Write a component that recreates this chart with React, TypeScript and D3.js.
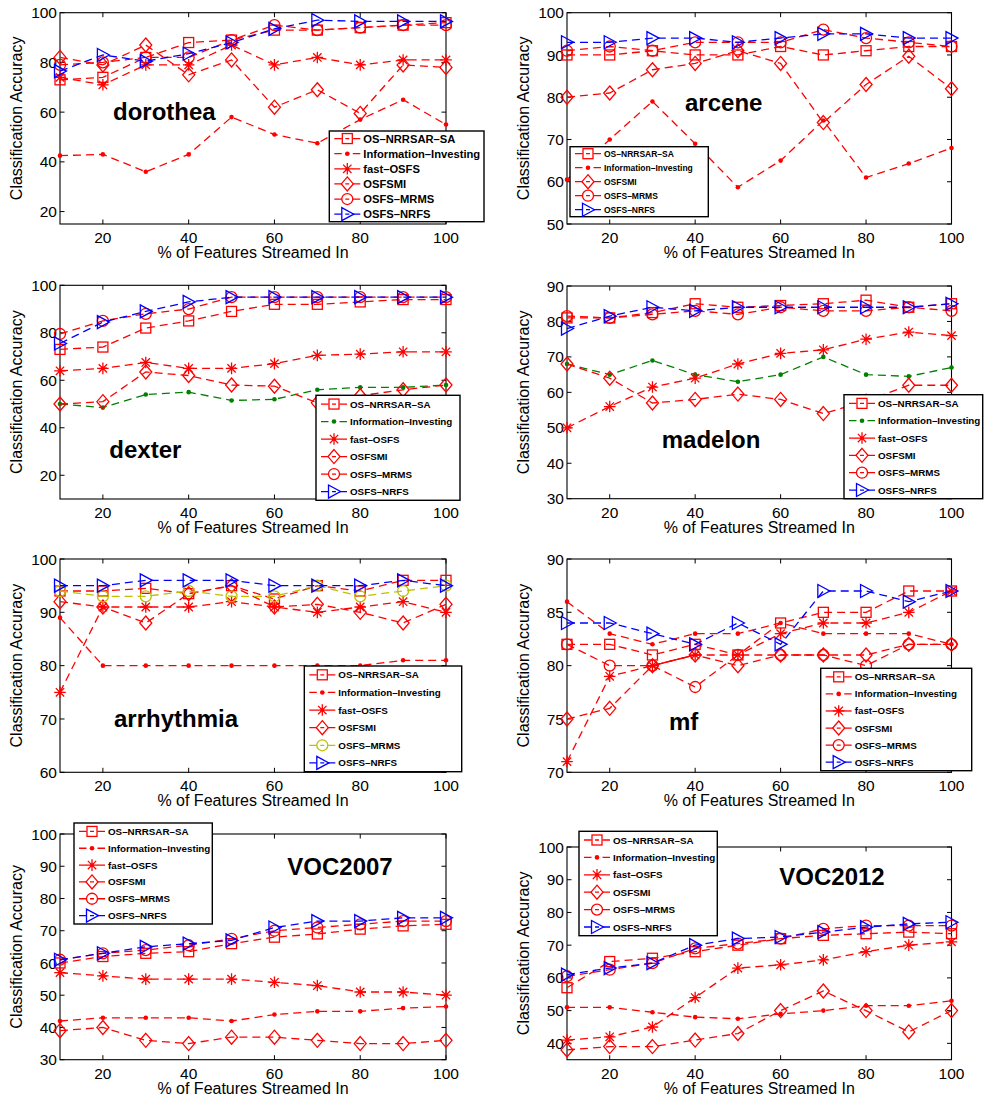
import React from "react";
import * as d3 from "d3";

const pct = [10, 20, 30, 40, 50, 60, 70, 80, 90, 100];
const xTicks = [20, 40, 60, 80, 100];

const methods = ["OS–NRRSAR–SA", "Information–Investing", "fast–OSFS", "OSFSMI", "OSFS–MRMS", "OSFS–NRFS"];
const markerTypes = ["square", "dot", "star", "diamond", "circle", "triangle"];

// dorothea
const dorotheaSA = [73, 74, 82, 88, 89, 93, 93, 94, 95, 96];
const dorotheaII = [42.5, 43, 36, 43, 58, 51, 47.5, 57, 65, 55];
const dorotheaFast = [74, 71, 79, 79, 87, 79, 82, 79, 81, 81];
const dorotheaMI = [82, 79, 87, 75, 81, 62, 69, 59.5, 79, 78];
const dorotheaMRMS = [79, 80, 82, 82, 89, 95, 93, 94, 95, 95];
const dorotheaNRFS = [76.5, 83, 80.5, 83.5, 88, 93.5, 97, 96.5, 96.5, 96.5];

// arcene
const arceneSA = [90, 90, 91, 90, 90, 92, 90, 91, 92, 92];
const arceneII = [60.5, 70, 79, 69, 58.7, 65, 74.5, 61, 64.3, 68];
const arceneMI = [80, 81, 86.5, 88, 91, 88, 74, 83, 89.7, 82];
const arceneMRMS = [91, 92, 91, 93, 93, 93, 96, 94, 93, 92];
const arceneNRFS = [93, 93, 94, 94, 93, 94, 95, 95, 94, 94];

// dexter
const dexterSA = [73, 74, 82, 85, 89, 92, 92, 93, 94, 94];
const dexterII = [50, 48.5, 54, 55, 51.5, 52, 56, 57, 57, 58];
const dexterFast = [64, 65, 67.5, 65, 65, 67, 70.5, 71, 72, 72];
const dexterMI = [50, 51, 63.5, 62, 58, 57.5, 50.5, 53.5, 56, 58];
const dexterMRMS = [79.5, 85, 88, 90, 95, 95, 95, 95, 95, 95];
const dexterNRFS = [75.5, 84.5, 89, 93, 95, 95, 95, 95, 95, 95];

// madelon
const madelonSA = [81, 81, 82.5, 85, 84, 84.5, 85, 86, 84, 85];
const madelonII = [68, 65, 69, 65, 63, 65, 70, 65, 64.5, 67];
const madelonFast = [50, 56, 61.5, 64, 68, 71, 72, 75, 77, 76];
const madelonMI = [68, 64, 57, 58, 59.5, 58, 54, 57.5, 62, 62];
const madelonMRMS = [81.5, 81, 82, 83, 82, 84, 83, 83, 84, 83];
const madelonNRFS = [78, 81.5, 84, 83, 84, 84, 84, 84, 84, 85];

// arrhythmia
const arrhythmiaSA = [94, 94, 94.5, 93.5, 95, 92.5, 95, 94, 96, 96];
const arrhythmiaII = [89, 80, 80, 80, 80, 80, 80, 80, 81, 81];
const arrhythmiaFast = [75, 91, 91, 91, 92, 91, 90, 91, 92, 90];
const arrhythmiaMI = [92, 91, 88, 93.5, 95, 91, 91.5, 90, 88, 91.5];
const arrhythmiaMRMS = [94, 93, 93, 94, 93, 93, 95, 93, 94, 95];
const arrhythmiaNRFS = [95, 95, 96, 96, 96, 95, 95, 95, 96, 95];

// mf
const mfSA = [82, 82, 81, 82, 81, 84, 85, 85, 87, 87];
const mfII = [86, 83, 82, 83, 83, 84, 83, 83, 83, 82];
const mfFast = [71, 79, 80, 81, 81, 83, 84, 84, 85, 87];
const mfMI = [75, 76, 80, 81, 80, 81, 81, 81, 82, 82];
const mfMRMS = [82, 80, 80, 78, 81, 81, 81, 80, 82, 82];
const mfNRFS = [84, 84, 83, 82, 84, 82, 87, 87, 86, 87];

// VOC2007
const voc07SA = [60, 62, 63, 63.5, 66, 68, 69, 70.5, 71.5, 72];
const voc07II = [42, 43, 43, 43, 42, 44, 45, 45, 46, 46.5];
const voc07Fast = [57, 56, 55, 55, 55, 54, 53, 51, 51, 50];
const voc07MI = [39, 40, 36, 35, 37, 37, 36, 35, 35, 36];
const voc07MRMS = [61, 63, 64, 65.5, 67.5, 70, 71, 72, 73, 73];
const voc07NRFS = [61, 63, 65, 66, 67, 71, 73, 73, 74, 74];

// VOC2012
const voc12SA = [57, 65, 66, 68, 70, 72, 73, 73.5, 74, 73.5];
const voc12II = [51, 51, 49.5, 48, 47.5, 49, 50, 51.5, 51.5, 53];
const voc12Fast = [41, 42, 45, 54, 63, 64, 65.5, 68, 70, 71];
const voc12MI = [38, 39, 39, 41, 43, 50, 56, 50, 43.5, 50];
const voc12MRMS = [60.5, 62.5, 64.5, 69, 70.5, 72, 75, 76, 76, 76];
const voc12NRFS = [61, 63, 64.5, 70, 72, 72.5, 74, 75.5, 76.5, 77];

const RED = "#ff0000";
const BLUE = "#0000ff";
const GREEN = "#008000";
const OLIVE = "#bfbf00";
const FONT = "'Liberation Sans', Arial, Helvetica, sans-serif";
const DASH = "8,5";

type Series = { m: number; values: number[]; color?: string; solidSeg?: [number, number] };
type PanelCfg = {
  name: string;
  left: number; right: number; top: number; bottom: number;
  yDomain: [number, number];
  yTicks: number[];
  series: Series[];
  legend: { x: number; y: number; w: number; h: number; font: number };
  label: { x: number; y: number };
};

const panels: PanelCfg[] = [
  {
    name: "dorothea", left: 60, right: 446, top: 12.7, bottom: 224,
    yDomain: [15, 100], yTicks: [20, 40, 60, 80, 100],
    series: [
      { m: 0, values: dorotheaSA }, { m: 1, values: dorotheaII }, { m: 2, values: dorotheaFast },
      { m: 3, values: dorotheaMI }, { m: 4, values: dorotheaMRMS }, { m: 5, values: dorotheaNRFS },
    ],
    legend: { x: 329.3, y: 131, w: 154.7, h: 90.7, font: 11.2 },
    label: { x: 113, y: 119.5 },
  },
  {
    name: "arcene", left: 567, right: 951.5, top: 12.7, bottom: 224,
    yDomain: [50, 100], yTicks: [50, 60, 70, 80, 90, 100],
    series: [
      { m: 0, values: arceneSA }, { m: 1, values: arceneII },
      { m: 3, values: arceneMI }, { m: 4, values: arceneMRMS }, { m: 5, values: arceneNRFS },
    ],
    legend: { x: 570, y: 146.7, w: 138.3, h: 70, font: 8.5 },
    label: { x: 685, y: 110.7 },
  },
  {
    name: "dexter", left: 60, right: 446, top: 285.3, bottom: 499,
    yDomain: [10, 100], yTicks: [20, 40, 60, 80, 100],
    series: [
      { m: 0, values: dexterSA }, { m: 1, values: dexterII, color: GREEN }, { m: 2, values: dexterFast },
      { m: 3, values: dexterMI }, { m: 4, values: dexterMRMS }, { m: 5, values: dexterNRFS },
    ],
    legend: { x: 316, y: 395.3, w: 144, h: 105, font: 9.8 },
    label: { x: 109.3, y: 458 },
  },
  {
    name: "madelon", left: 567, right: 951.5, top: 286, bottom: 498.7,
    yDomain: [30, 90], yTicks: [30, 40, 50, 60, 70, 80, 90],
    series: [
      { m: 0, values: madelonSA }, { m: 1, values: madelonII, color: GREEN }, { m: 2, values: madelonFast },
      { m: 3, values: madelonMI }, { m: 4, values: madelonMRMS }, { m: 5, values: madelonNRFS },
    ],
    legend: { x: 844, y: 394.7, w: 138.7, h: 104, font: 9.8 },
    label: { x: 661.7, y: 448 },
  },
  {
    name: "arrhythmia", left: 60, right: 446, top: 559, bottom: 772.3,
    yDomain: [60, 100], yTicks: [60, 70, 80, 90, 100],
    series: [
      { m: 0, values: arrhythmiaSA }, { m: 1, values: arrhythmiaII }, { m: 2, values: arrhythmiaFast },
      { m: 3, values: arrhythmiaMI }, { m: 4, values: arrhythmiaMRMS, color: OLIVE }, { m: 5, values: arrhythmiaNRFS },
    ],
    legend: { x: 304.3, y: 666, w: 157.4, h: 105.7, font: 9.8 },
    label: { x: 114, y: 726.7 },
  },
  {
    name: "mf", left: 567, right: 951.5, top: 559, bottom: 772.3,
    yDomain: [70, 90], yTicks: [70, 75, 80, 85, 90],
    series: [
      { m: 0, values: mfSA }, { m: 1, values: mfII }, { m: 2, values: mfFast, solidSeg: [2, 3] },
      { m: 3, values: mfMI }, { m: 4, values: mfMRMS }, { m: 5, values: mfNRFS },
    ],
    legend: { x: 820.7, y: 668.3, w: 151, h: 102.4, font: 9.8 },
    label: { x: 669, y: 730 },
  },
  {
    name: "VOC2007", left: 60, right: 446, top: 834, bottom: 1059.7,
    yDomain: [30, 100], yTicks: [30, 40, 50, 60, 70, 80, 90, 100],
    series: [
      { m: 0, values: voc07SA }, { m: 1, values: voc07II }, { m: 2, values: voc07Fast },
      { m: 3, values: voc07MI }, { m: 4, values: voc07MRMS }, { m: 5, values: voc07NRFS },
    ],
    legend: { x: 74, y: 823, w: 138.3, h: 101, font: 9.8 },
    label: { x: 287.3, y: 875.3 },
  },
  {
    name: "VOC2012", left: 567, right: 951.5, top: 847, bottom: 1059.7,
    yDomain: [35, 100], yTicks: [40, 50, 60, 70, 80, 90, 100],
    series: [
      { m: 0, values: voc12SA }, { m: 1, values: voc12II }, { m: 2, values: voc12Fast },
      { m: 3, values: voc12MI }, { m: 4, values: voc12MRMS }, { m: 5, values: voc12NRFS },
    ],
    legend: { x: 579, y: 831.3, w: 138.3, h: 104.4, font: 9.8 },
    label: { x: 779.3, y: 885.3 },
  },
];

function Marker({ type, x, y, color }: { type: string; x: number; y: number; color: string }) {
  const sw = 1.3;
  if (type === "square")
    return <rect x={x - 5} y={y - 5} width={10} height={10} fill="none" stroke={color} strokeWidth={sw} />;
  if (type === "dot") return <circle cx={x} cy={y} r={2.3} fill={color} />;
  if (type === "star") {
    const s = 5.8, d = s * 0.72;
    return (
      <path
        d={`M${x - s},${y}H${x + s}M${x},${y - s}V${y + s}M${x - d},${y - d}L${x + d},${y + d}M${x - d},${y + d}L${x + d},${y - d}`}
        fill="none" stroke={color} strokeWidth={sw}
      />
    );
  }
  if (type === "diamond")
    return <path d={`M${x},${y - 7}L${x + 6},${y}L${x},${y + 7}L${x - 6},${y}Z`} fill="none" stroke={color} strokeWidth={sw} />;
  if (type === "circle") return <circle cx={x} cy={y} r={5.5} fill="none" stroke={color} strokeWidth={sw} />;
  return <path d={`M${x - 5.5},${y - 6.5}L${x + 6.5},${y}L${x - 5.5},${y + 6.5}Z`} fill="none" stroke={color} strokeWidth={sw} />;
}

function Panel({ p }: { p: PanelCfg }) {
  const x = d3.scaleLinear().domain([10, 100]).range([p.left, p.right]);
  const y = d3.scaleLinear().domain(p.yDomain).range([p.bottom, p.top]);
  const line = d3.line<number>().x((_, i) => x(pct[i])).y((d) => y(d));
  const colorOf = (s: Series) => s.color || (s.m === 5 ? BLUE : RED);
  const tk = 4.5;
  const lg = p.legend;
  const n = p.series.length;
  const rowH = lg.h / n;

  return (
    <g>
      {/* axes box and ticks */}
      <rect x={p.left} y={p.top} width={p.right - p.left} height={p.bottom - p.top} fill="none" stroke="#000" strokeWidth={1.1} />
      {xTicks.map((t) => (
        <g key={"x" + t}>
          <line x1={x(t)} x2={x(t)} y1={p.bottom} y2={p.bottom - tk} stroke="#000" />
          <line x1={x(t)} x2={x(t)} y1={p.top} y2={p.top + tk} stroke="#000" />
          <text x={x(t)} y={p.bottom + 19} textAnchor="middle" fontSize={15.5}>{t}</text>
        </g>
      ))}
      {p.yTicks.map((t) => (
        <g key={"y" + t}>
          <line x1={p.left} x2={p.left + tk} y1={y(t)} y2={y(t)} stroke="#000" />
          <line x1={p.right} x2={p.right - tk} y1={y(t)} y2={y(t)} stroke="#000" />
          <text x={p.left - 3} y={y(t)} dy="0.36em" textAnchor="end" fontSize={15.5}>{t}</text>
        </g>
      ))}
      <text x={(p.left + p.right) / 2} y={p.bottom + 34} textAnchor="middle" fontSize={16}>% of Features Streamed In</text>
      <text transform={`translate(${p.left - 38},${(p.top + p.bottom) / 2}) rotate(-90)`} textAnchor="middle" fontSize={16}>
        Classification Accuracy
      </text>

      {/* series */}
      {p.series.map((s, si) => {
        const c = colorOf(s);
        return (
          <g key={si}>
            <path d={line(s.values) || ""} fill="none" stroke={c} strokeWidth={1.3} strokeDasharray={DASH} />
            {s.solidSeg && (
              <line
                x1={x(pct[s.solidSeg[0]])} y1={y(s.values[s.solidSeg[0]])}
                x2={x(pct[s.solidSeg[1]])} y2={y(s.values[s.solidSeg[1]])}
                stroke={c} strokeWidth={1.3}
              />
            )}
            {s.values.map((v, i) => (
              <Marker key={i} type={markerTypes[s.m]} x={x(pct[i])} y={y(v)} color={c} />
            ))}
          </g>
        );
      })}

      <text x={p.label.x} y={p.label.y} fontSize={24} fontWeight="bold">{p.name}</text>

      {/* legend */}
      <rect x={lg.x} y={lg.y} width={lg.w} height={lg.h} fill="#fff" stroke="#000" strokeWidth={1.4} />
      {p.series.map((s, i) => {
        const cy = lg.y + (i + 0.5) * rowH;
        const c = colorOf(s);
        return (
          <g key={"l" + i}>
            <line
              x1={lg.x + 5} x2={lg.x + 31} y1={cy} y2={cy} stroke={c} strokeWidth={1.3}
              strokeDasharray={s.solidSeg ? undefined : "7.5,3.5,4,3.5,7.5"}
            />
            <Marker type={markerTypes[s.m]} x={lg.x + 18} y={cy} color={c} />
            <text x={lg.x + 34} y={cy} dy="0.36em" fontSize={lg.font} fontWeight="bold">{methods[s.m]}</text>
          </g>
        );
      })}
    </g>
  );
}

export default function App() {
  return (
    <svg
      width={984}
      height={1100}
      style={{ position: "absolute", left: 0, top: 0, background: "#fff" }}
      fontFamily={FONT}
    >
      <rect width={984} height={1100} fill="#fff" />
      {panels.map((p) => (
        <Panel key={p.name} p={p} />
      ))}
    </svg>
  );
}
